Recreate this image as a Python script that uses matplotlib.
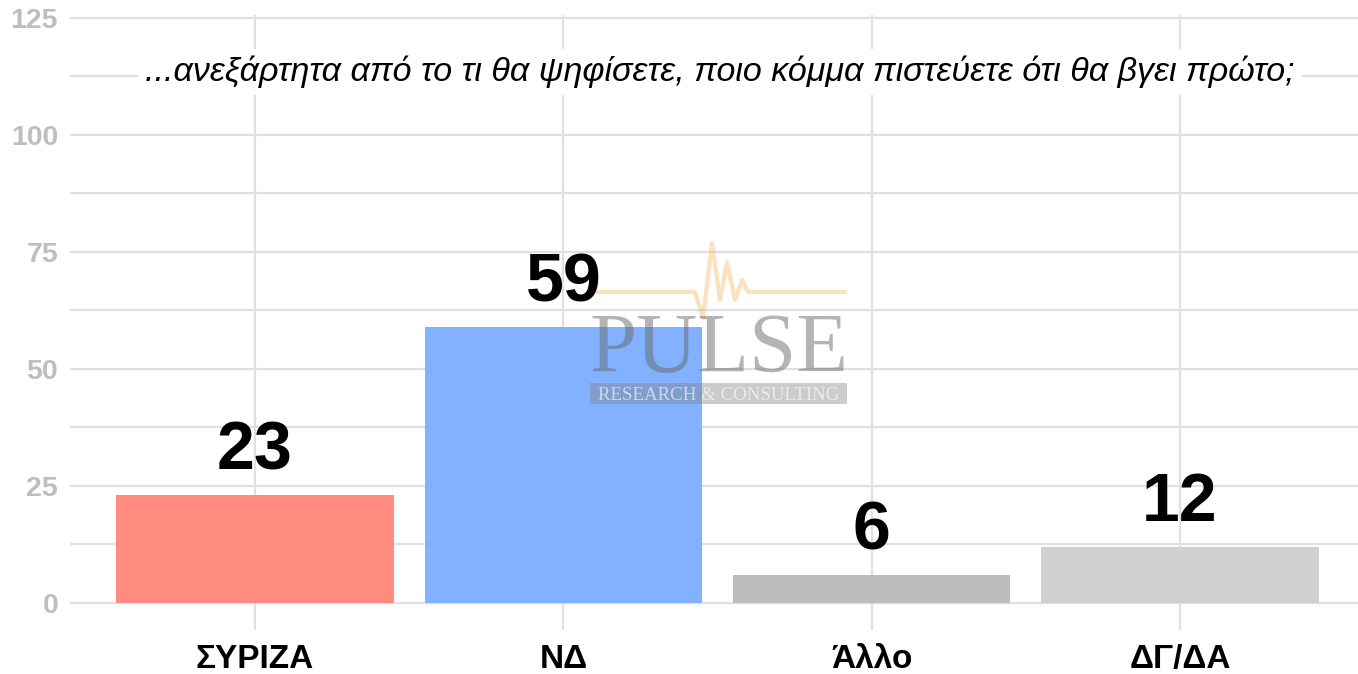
import matplotlib
matplotlib.use("Agg")
import matplotlib.pyplot as plt
from matplotlib.patches import Rectangle
from matplotlib.ticker import MultipleLocator

categories = ["ΣΥΡΙΖΑ", "ΝΔ", "Άλλο", "ΔΓ/ΔΑ"]
values = [23, 59, 6, 12]
bar_colors = ["#FF8A80", "#82B1FF", "#BDBDBD", "#D0D0D0"]
y_ticks = [0, 25, 50, 75, 100, 125]
subtitle = "...ανεξάρτητα από το τι θα ψηφίσετε, ποιο κόμμα πιστεύετε ότι θα βγει πρώτο;"

W, H = 1358, 674
fig = plt.figure(figsize=(W / 100, H / 100), dpi=100)
fig.patch.set_facecolor("white")

left_px, right_px = 70, 1365
top_px, bot_px = 15, 630
ax = fig.add_axes([left_px / W, (H - bot_px) / H, (right_px - left_px) / W, (bot_px - top_px) / H])
ax.set_facecolor("white")

x = list(range(1, len(categories) + 1))
ax.bar(x, values, width=0.9, color=bar_colors, zorder=2)
for xi, v in zip(x, values):
    ax.text(xi, v + 5.5, str(v), ha="center", va="baseline",
            fontsize=49, fontweight="bold", family="Liberation Sans", color="black", zorder=4)

ax.set_xlim(0.4, 4.6)
ax.set_ylim(-5.77, 125.64)
ax.set_xticks(x)
ax.set_xticklabels(categories, fontsize=24, fontweight="bold", family="Liberation Sans", color="black")
ax.set_yticks(y_ticks)
ax.set_yticklabels([str(t) for t in y_ticks], fontsize=20.5, fontweight="bold",
                   family="Liberation Sans", color="#BEBEBE")
ax.yaxis.set_minor_locator(MultipleLocator(12.5))
ax.tick_params(axis="both", which="both", length=0)
ax.tick_params(axis="y", pad=8.5)
ax.tick_params(axis="x", pad=10)
ax.grid(True, which="major", color="#E0E0E0", linewidth=1.6, zorder=0)
ax.grid(True, which="minor", axis="y", color="#E0E0E0", linewidth=1.6, zorder=0)
ax.set_axisbelow(True)
for s in ax.spines.values():
    s.set_visible(False)

# subtitle with white background
fig.text(720 / W, (H - 81) / H, subtitle, ha="center", va="baseline", fontsize=24.5,
         style="italic", family="Liberation Sans", color="black",
         bbox=dict(facecolor="white", edgecolor="none", pad=5))

# PULSE watermark (decorative, figure pixel coordinates)
def fx(px):
    return px / W
def fy(py):
    return (H - py) / H

hb_x = [598, 695, 703, 712, 720, 727, 735, 742, 748, 845]
hb_y = [292, 292, 318, 243, 300, 262, 300, 280, 292, 292]
fig.add_artist(plt.Line2D([fx(v) for v in hb_x], [fy(v) for v in hb_y],
                          color="#F5B45A", alpha=0.4, linewidth=3, zorder=5))
fig.text(fx(590), fy(372), "PULSE", ha="left", va="baseline", fontsize=61,
         family="Liberation Serif", color="#6A6A6A", alpha=0.5, zorder=5)
fig.add_artist(Rectangle((fx(590), fy(404)), fx(847) - fx(590), fy(383) - fy(404),
                         transform=fig.transFigure, facecolor="#808080", alpha=0.4,
                         edgecolor="none", zorder=5))
fig.text(fx(598), fy(400), "RESEARCH & CONSULTING", ha="left", va="baseline", fontsize=13.6,
         family="Liberation Serif", color="white", alpha=0.6, zorder=6)

fig.savefig("out.png", dpi=100, facecolor="white")
